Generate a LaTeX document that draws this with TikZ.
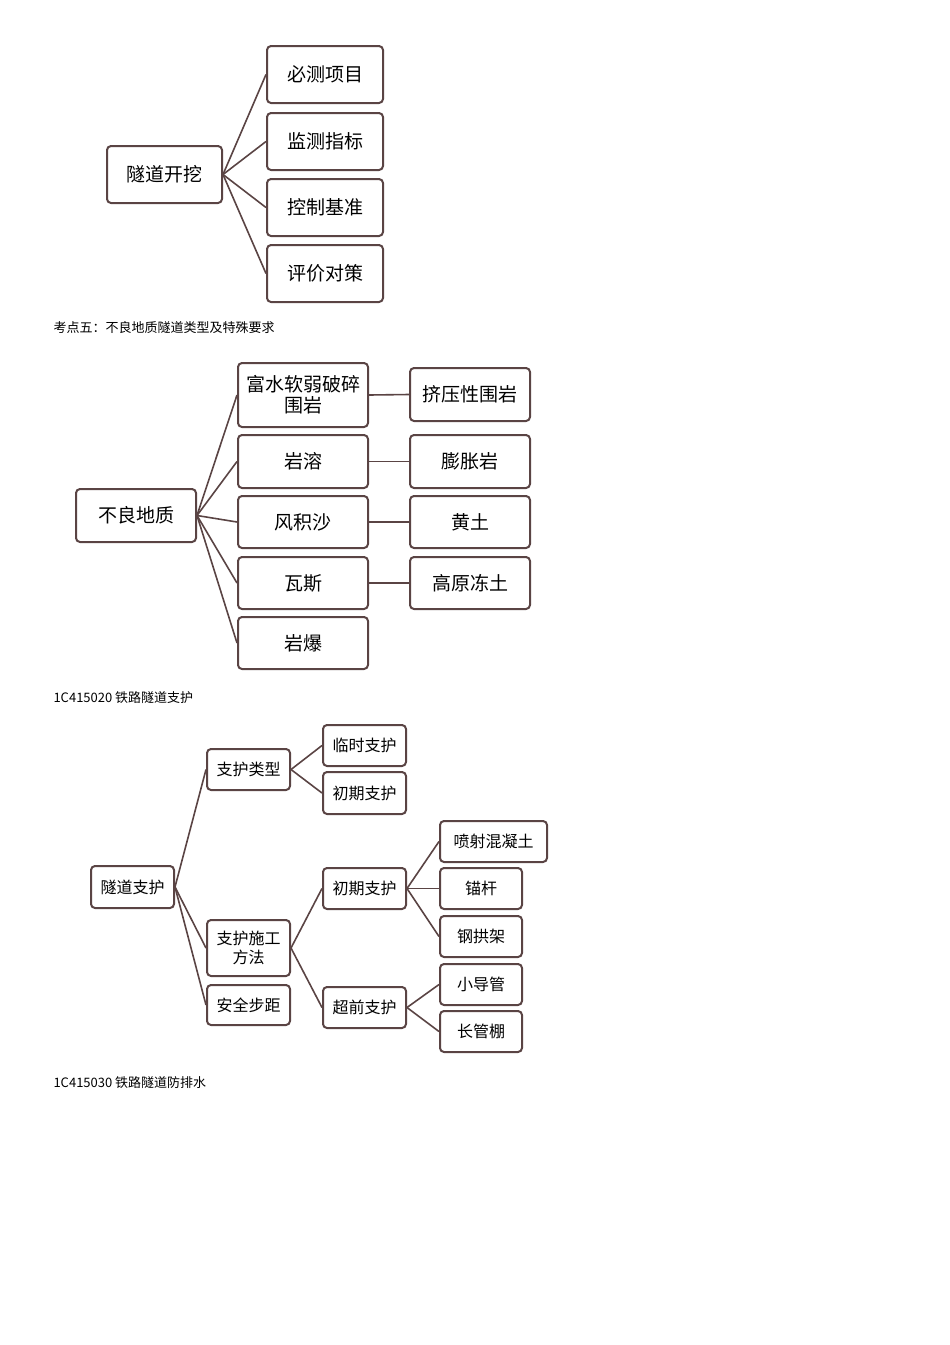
\documentclass[tikz,border=0pt]{standalone}
\usepackage{fontspec}
\newfontfamily\cjk{Noto Sans CJK SC}
\newfontfamily\cjkserif{Noto Sans CJK SC}
\begin{document}
\begin{tikzpicture}[x=1pt,y=-1pt,
  bx/.style={draw=boxc,line width=2pt,rounded corners=4pt,fill=white,inner sep=1pt,align=center,font=\cjk\fontsize{19}{21}\selectfont},
  sb/.style={bx,font=\cjk\fontsize{16}{19}\selectfont},
  ln/.style={draw=boxc,line width=1.6pt},
  captext/.style={anchor=west,font=\cjkserif\fontsize{13}{15}\selectfont}]
\definecolor{boxc}{HTML}{5A4444}
\useasboundingbox (0,0) rectangle (950,1345);
\newcommand\B[6]{\node[#1,minimum width=#4-#2,minimum height=#5-#3] (#6) at ({(#2+#4)/2},{(#3+#5)/2})}
% diagram 1
\B{bx}{107}{146}{222}{203}{r1} {隧道开挖};
\B{bx}{267}{46}{383}{103}{a1} {必测项目};
\B{bx}{267}{113}{383}{170}{a2} {监测指标};
\B{bx}{267}{179}{383}{236}{a3} {控制基准};
\B{bx}{267}{245}{383}{302}{a4} {评价对策};
\foreach \c in {a1,a2,a3,a4} \draw[ln] (r1.east) -- (\c.west);
\node[captext] (c1) at (50,328) {考点五：不良地质隧道类型及特殊要求};
% diagram 2
\B{bx}{76}{489}{196}{542}{r2} {不良地质};
\B{bx}{238}{363}{368}{427}{b1} {富水软弱破碎\\围岩};
\B{bx}{238}{435}{368}{488}{b2} {岩溶};
\B{bx}{238}{496}{368}{548}{b3} {风积沙};
\B{bx}{238}{557}{368}{609}{b4} {瓦斯};
\B{bx}{238}{617}{368}{669}{b5} {岩爆};
\B{bx}{410}{368}{530}{421}{d1} {挤压性围岩};
\B{bx}{410}{435}{530}{488}{d2} {膨胀岩};
\B{bx}{410}{496}{530}{548}{d3} {黄土};
\B{bx}{410}{557}{530}{609}{d4} {高原冻土};
\foreach \c in {b1,b2,b3,b4,b5} \draw[ln] (r2.east) -- (\c.west);
\draw[ln] (b1.east) -- (d1.west);
\draw[ln] (b2.east) -- (d2.west);
\draw[ln] (b3.east) -- (d3.west);
\draw[ln] (b4.east) -- (d4.west);
\node[captext] (c2) at (50,698) {1C415020 铁路隧道支护};
% diagram 3
\B{sb}{91}{866}{174}{908}{r3} {隧道支护};
\B{sb}{207}{749}{290}{790}{e1} {支护类型};
\B{sb}{207}{920}{290}{976}{e2} {支护施工\\方法};
\B{sb}{207}{985}{290}{1025}{e3} {安全步距};
\B{sb}{323}{725}{406}{766}{f1} {临时支护};
\B{sb}{323}{772}{406}{814}{f2} {初期支护};
\B{sb}{323}{868}{406}{909}{f3} {初期支护};
\B{sb}{323}{987}{406}{1028}{f4} {超前支护};
\B{sb}{440}{821}{547}{862}{g1} {喷射混凝土};
\B{sb}{440}{868}{522}{909}{g2} {锚杆};
\B{sb}{440}{916}{522}{957}{g3} {钢拱架};
\B{sb}{440}{964}{522}{1005}{g4} {小导管};
\B{sb}{440}{1011}{522}{1052}{g5} {长管棚};
\foreach \c in {e1,e2,e3} \draw[ln] (r3.east) -- (\c.west);
\foreach \c in {f1,f2} \draw[ln] (e1.east) -- (\c.west);
\foreach \c in {f3,f4} \draw[ln] (e2.east) -- (\c.west);
\foreach \c in {g1,g2,g3} \draw[ln] (f3.east) -- (\c.west);
\foreach \c in {g4,g5} \draw[ln] (f4.east) -- (\c.west);
\node[captext] (c3) at (50,1083) {1C415030 铁路隧道防排水};
\end{tikzpicture}
\end{document}
